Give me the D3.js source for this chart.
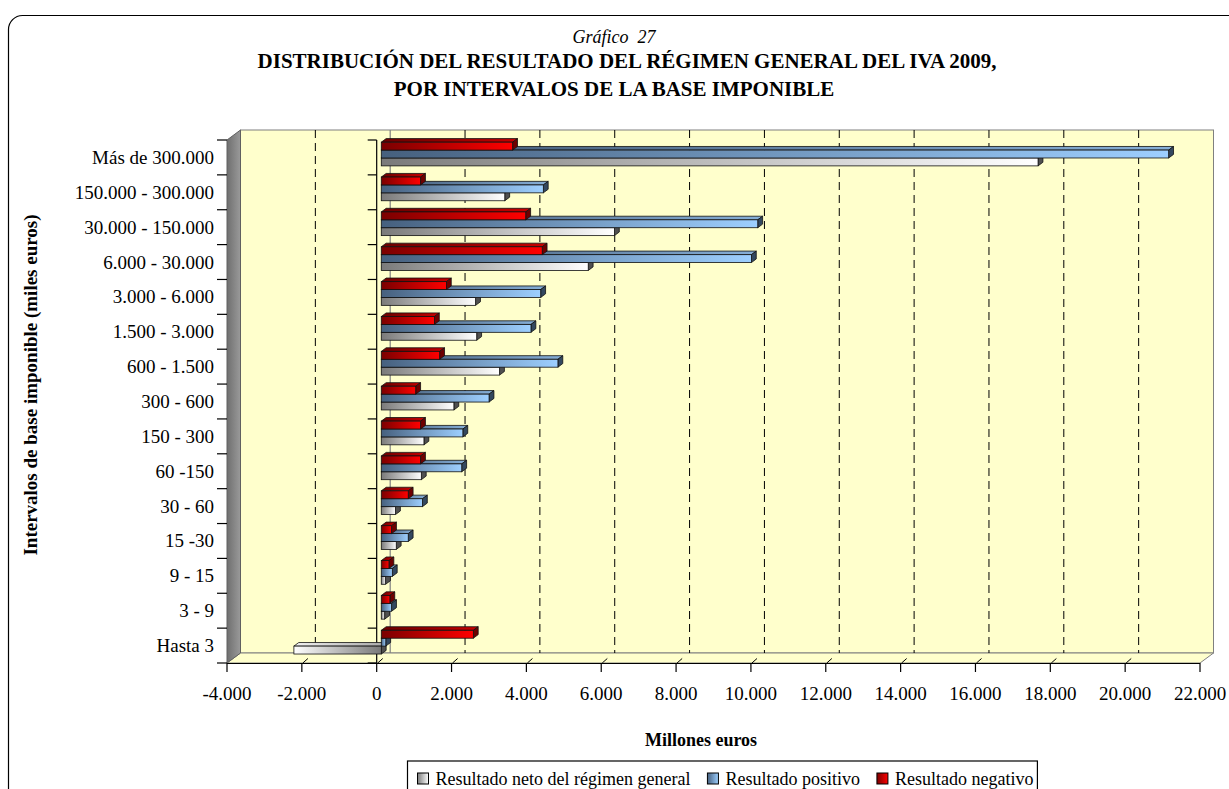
<!DOCTYPE html>
<html><head><meta charset="utf-8">
<script src="https://cdn.jsdelivr.net/npm/d3@7"></script>
<style>
body{margin:0;background:#fff}
svg{display:block}
text{font-family:"Liberation Serif","Times New Roman",serif;fill:#000}
</style>
</head><body>
<svg id="c" width="1229" height="789"></svg>
<script>
// ---------------- data ----------------
const categories = ["Más de 300.000","150.000 - 300.000","30.000 - 150.000","6.000 - 30.000","3.000 - 6.000","1.500 - 3.000","600 - 1.500","300 - 600","150 - 300","60 -150","30 - 60","15 -30","9 - 15","3 - 9","Hasta 3"];
const seriesNames = ["Resultado neto del régimen general","Resultado positivo","Resultado negativo"];
const neto     = [17550, 3300, 6230, 5530, 2520, 2550, 3160, 1940, 1140, 1070, 380, 400, 115, 90, -2335];
const positivo = [21040, 4330, 10060, 9890, 4260, 4000, 4720, 2880, 2180, 2150, 1100, 720, 295, 275, 120];
const negativo = [3510, 1050, 3860, 4300, 1740, 1420, 1560, 920, 1050, 1050, 720, 275, 205, 230, 2460];
const xTickValues = [-4000,-2000,0,2000,4000,6000,8000,10000,12000,14000,16000,18000,20000,22000];
const titleLines = ["Gráfico  27","DISTRIBUCIÓN DEL RESULTADO DEL RÉGIMEN GENERAL DEL IVA 2009,","POR INTERVALOS DE LA BASE IMPONIBLE"];
const xTitle = "Millones euros";
const yTitle = "Intervalos de base imponible (miles euros)";

// ---------------- setup ----------------
const svg = d3.select("#c");
const locale = d3.formatLocale({decimal:",",thousands:".",grouping:[3],currency:["","€"],minus:"-"});
const fmt = locale.format(",");

const plotTop = 140, plotBottom = 663;
const x = d3.scaleLinear().domain([-4000,22000]).range([227,1200]);
const yCat = d3.scaleBand().domain(categories).range([plotTop,plotBottom]).paddingInner(0.32).paddingOuter(0.16);
const yStep = yCat.step();
const keys = ["neg","pos","net"]; // top to bottom within a category
const ySer = d3.scaleBand().domain(keys).range([0,yCat.bandwidth()]);
const DX = 13.5, DY = -10;
const D0 = 0.34, D1 = 0.70;

const series = [
  {key:"net", name:seriesNames[0], values:neto,
   front:["#7a7a7a","#ffffff"], top:["#a8a8a8","#f2f2f2"], side:"#505050"},
  {key:"pos", name:seriesNames[1], values:positivo,
   front:["#46607e","#9dcfff"], top:["#3f5570","#86afd8"], side:"#33485f"},
  {key:"neg", name:seriesNames[2], values:negativo,
   front:["#7a0000","#ff0000"], top:["#6a0000","#c80000"], side:"#6e0000"}
];

// gradients
const defs = svg.append("defs");
function grad(id, c0, c1, rev){
  const g = defs.append("linearGradient").attr("id",id)
    .attr("x1",rev?1:0).attr("x2",rev?0:1).attr("y1",0).attr("y2",0);
  g.append("stop").attr("offset",0).attr("stop-color",c0);
  g.append("stop").attr("offset",1).attr("stop-color",c1);
}
series.forEach(s=>{
  grad("f-"+s.key, s.front[0], s.front[1], false);
  grad("fr-"+s.key, s.front[0], s.front[1], true);
  grad("t-"+s.key, s.top[0], s.top[1], false);
  grad("tr-"+s.key, s.top[0], s.top[1], true);
});
grad("wall","#6f6f6f","#9a9a9a",false);

// chart border (rounded top-left)
svg.append("rect").attr("x",8.5).attr("y",15.5).attr("width",1280).attr("height",820)
  .attr("rx",14).attr("fill","none").attr("stroke","#000").attr("stroke-width",1.2);

// ---------------- titles ----------------
svg.append("text").attr("x",614).attr("y",43).attr("text-anchor","middle")
  .attr("font-size",18).attr("font-style","italic").style("white-space","pre").text(titleLines[0]);
svg.append("text").attr("x",627).attr("y",68).attr("text-anchor","middle")
  .attr("font-size",21).attr("font-weight","bold").text(titleLines[1]);
svg.append("text").attr("x",614).attr("y",96).attr("text-anchor","middle")
  .attr("font-size",21).attr("font-weight","bold").text(titleLines[2]);

// ---------------- walls ----------------
const x0 = x.range()[0], x1 = x.range()[1];
const pts = a => a.map(p=>p.join(",")).join(" ");
svg.append("rect").attr("x",x0+DX).attr("y",plotTop+DY).attr("width",x1-x0).attr("height",plotBottom-plotTop)
  .attr("fill","#ffffcc").attr("stroke","#808080").attr("stroke-width",1);
svg.append("polygon").attr("points",pts([[x0,plotBottom],[x1,plotBottom],[x1+DX,plotBottom+DY],[x0+DX,plotBottom+DY]]))
  .attr("fill","#ffffcc").attr("stroke","#808080").attr("stroke-width",1);
svg.append("polygon").attr("points",pts([[x0,plotTop],[x0+DX,plotTop+DY],[x0+DX,plotBottom+DY],[x0,plotBottom]]))
  .attr("fill","url(#wall)").attr("stroke","#606060").attr("stroke-width",1);

// gridlines on back wall
svg.append("g").selectAll("line").data(xTickValues.filter(v=>v>-4000)).join("line")
  .attr("x1",d=>x(d)+DX).attr("x2",d=>x(d)+DX)
  .attr("y1",plotTop+DY).attr("y2",plotBottom+DY)
  .attr("stroke",d=>d===0||d===22000?"#808080":"#000")
  .attr("stroke-width",d=>d===0?1.2:1)
  .attr("stroke-dasharray",d=>d===0?null:"8,5");
// floor short slants
svg.append("g").selectAll("line").data(xTickValues.filter(v=>v>-4000&&v<22000)).join("line")
  .attr("x1",d=>x(d)+1).attr("y1",plotBottom)
  .attr("x2",d=>x(d)+DX*0.45).attr("y2",plotBottom+DY*0.45)
  .attr("stroke","#000").attr("stroke-width",1);

// category axis at 0 (front) + ticks
const bounds = d3.range(categories.length+1).map(k=>plotTop+k*yStep);
const gCat = svg.append("g");
gCat.append("line").attr("x1",x(0)).attr("x2",x(0)).attr("y1",plotTop).attr("y2",plotBottom)
  .attr("stroke","#000").attr("stroke-width",1.2);
gCat.selectAll("line.t").data(bounds).join("line").attr("class","t")
  .attr("x1",x(0)-9).attr("x2",x(0)).attr("y1",d=>d).attr("y2",d=>d)
  .attr("stroke","#000").attr("stroke-width",1.2);
svg.append("g").selectAll("line").data(bounds).join("line")
  .attr("x1",x0-10).attr("x2",x0).attr("y1",d=>d).attr("y2",d=>d)
  .attr("stroke","#000").attr("stroke-width",1.2);

// ---------------- bars ----------------
const gBars = svg.append("g");
const order = d3.range(categories.length).reverse();
order.forEach(i=>{
  const cat = categories[i];
  series.forEach(s=>{
    const v = s.values[i];
    const a = x(Math.min(0,v)), b = x(Math.max(0,v));
    const yt = yCat(cat)+ySer(s.key), yb = yt+ySer.bandwidth();
    const neg = v<0;
    const P = (px,py,d)=>[px+DX*d, py+DY*d];
    gBars.append("polygon").attr("points",pts([P(a,yt,D0),P(b,yt,D0),P(b,yt,D1),P(a,yt,D1)]))
      .attr("fill",`url(#${neg?"tr-":"t-"}${s.key})`).attr("stroke","#111").attr("stroke-width",0.8).attr("stroke-linejoin","round");
    gBars.append("polygon").attr("points",pts([P(b,yt,D0),P(b,yt,D1),P(b,yb,D1),P(b,yb,D0)]))
      .attr("fill",s.side).attr("stroke","#111").attr("stroke-width",0.8).attr("stroke-linejoin","round");
    const f = P(a,yt,D0);
    gBars.append("rect").attr("x",f[0]).attr("y",f[1]).attr("width",Math.max(0.5,b-a)).attr("height",yb-yt)
      .attr("fill",`url(#${neg?"fr-":"f-"}${s.key})`).attr("stroke","#111").attr("stroke-width",0.8);
  });
});

// ---------------- x axis ----------------
const gx = svg.append("g");
gx.append("line").attr("x1",x0).attr("x2",x1).attr("y1",plotBottom+0.5).attr("y2",plotBottom+0.5)
  .attr("stroke","#000").attr("stroke-width",1.2);
gx.selectAll("line.t").data(xTickValues).join("line").attr("class","t")
  .attr("x1",d=>x(d)).attr("x2",d=>x(d)).attr("y1",plotBottom).attr("y2",plotBottom+9)
  .attr("stroke","#000").attr("stroke-width",1.2);
gx.selectAll("text").data(xTickValues).join("text")
  .attr("x",d=>x(d)).attr("y",700).attr("text-anchor","middle").attr("font-size",19)
  .text(d=>fmt(d));

// category labels
svg.append("g").selectAll("text").data(categories).join("text")
  .attr("x",214).attr("y",(d,i)=>plotTop+yStep*(i+0.5)+6.5).attr("text-anchor","end")
  .attr("font-size",19).text(d=>d);

// axis titles
svg.append("text").attr("x",701).attr("y",746).attr("text-anchor","middle")
  .attr("font-size",18).attr("font-weight","bold").text(xTitle);
svg.append("text").attr("transform","translate(37,385) rotate(-90)").attr("text-anchor","middle")
  .attr("font-size",19).attr("font-weight","bold").text(yTitle);

// ---------------- legend ----------------
const lg = svg.append("g");
const lx0 = 407.5, ly0 = 761, lcy = 779;
let cx = lx0 + 10;
series.forEach(s=>{
  const it = lg.append("g");
  it.append("rect").attr("x",cx).attr("y",lcy-6).attr("width",11).attr("height",11)
    .attr("fill",`url(#f-${s.key})`).attr("stroke","#000").attr("stroke-width",1);
  const t = it.append("text").attr("x",cx+18).attr("y",lcy+6).attr("font-size",18).text(s.name);
  const w = t.node().getComputedTextLength();
  cx = cx + 18 + w + 17;
});
lg.insert("rect",":first-child").attr("x",lx0).attr("y",ly0).attr("width",cx-lx0-13).attr("height",40)
  .attr("fill","#fff").attr("stroke","#000").attr("stroke-width",1.2);
</script>
</body></html>
